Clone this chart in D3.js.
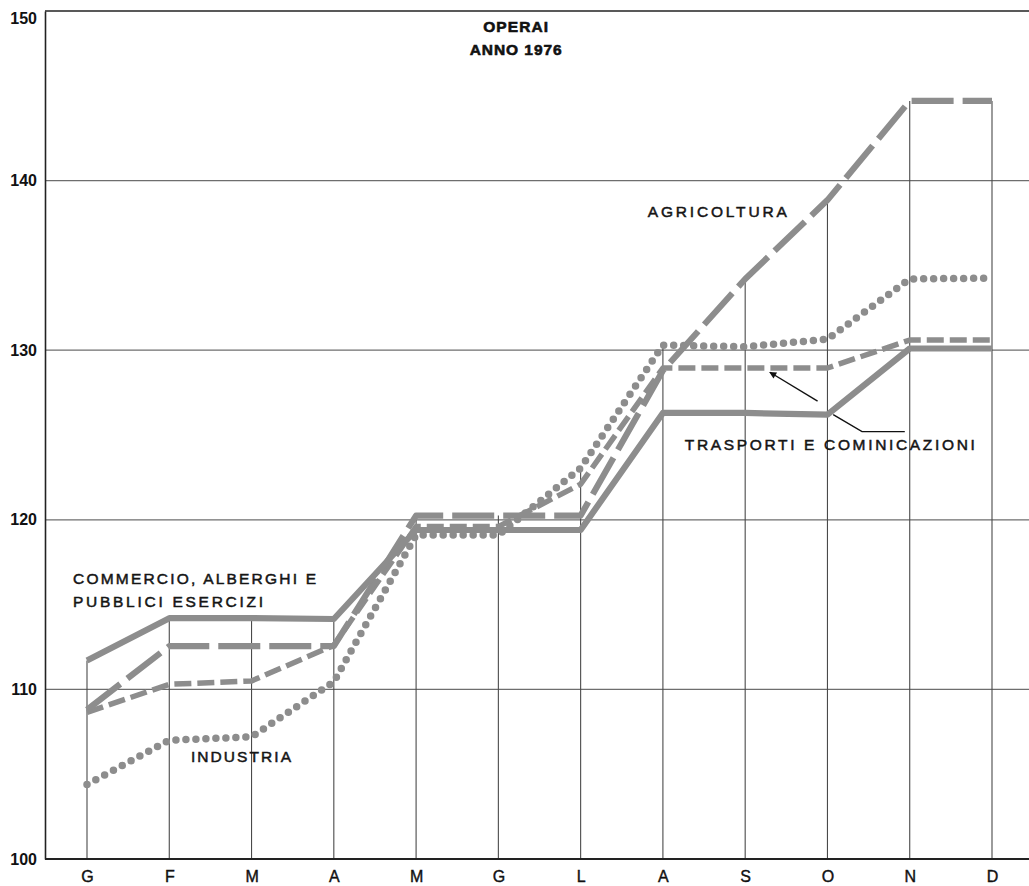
<!DOCTYPE html>
<html><head><meta charset="utf-8">
<script src="https://cdn.jsdelivr.net/npm/d3@7/dist/d3.min.js"></script>
<style>html,body{margin:0;padding:0;background:#fff;} svg{display:block}</style>
</head><body><svg id="c" width="1029" height="886"></svg>
<script>
// ---- data ----
const months = ["G","F","M","A","M","G","L","A","S","O","N","D"];
const yTicks = [100,110,120,130,140,150];
const gridValues = [110,120,130,140];
const commercio   = [111.7,114.2,114.2,114.15,119.4,119.4,119.4,126.3,126.3,126.2,130.1,130.1];
const agricoltura = [108.8,112.55,112.55,112.55,120.25,120.25,120.25,128.8,134.2,138.85,144.7,144.7];
const trasporti   = [108.65,110.3,110.5,112.6,119.6,119.6,122.1,128.95,128.95,128.95,130.6,130.6];
const industria   = [104.4,107.0,107.2,110.45,119.1,119.1,123.05,130.3,130.2,130.65,134.2,134.25];
const titleLines = ["OPERAI","ANNO 1976"];

// ---- layout ----
const W = 1029, H = 886;
const left = 45, right = 1029;
const svg = d3.select("#c");
const x = d3.scaleLinear().domain([0, 11]).range([87, 992]);
const y = d3.scaleLinear().domain([100, 150]).range([859, 11]);
const lineColor = "#8d8d8d";
const font = "'Liberation Sans', Arial, Helvetica, sans-serif";

svg.append("rect").attr("width", W).attr("height", H).attr("fill", "#fff");

// gridlines
svg.append("g").selectAll("line").data(gridValues).join("line")
  .attr("x1", left).attr("x2", right)
  .attr("y1", d => y(d)).attr("y2", d => y(d))
  .attr("stroke", "#6e6e6e").attr("stroke-width", 1.2);

// top border
svg.append("line").attr("x1", left).attr("x2", right)
  .attr("y1", y(150)).attr("y2", y(150))
  .attr("stroke", "#222").attr("stroke-width", 1.6);

// drop lines to max series value
const allSeries = [commercio, agricoltura, trasporti, industria];
const maxes = months.map((m, i) => d3.max(allSeries, s => s[i]));
svg.append("g").selectAll("line").data(maxes).join("line")
  .attr("x1", (d, i) => x(i)).attr("x2", (d, i) => x(i))
  .attr("y1", y(100)).attr("y2", d => y(d))
  .attr("stroke", "#4a4a4a").attr("stroke-width", 1.1);

// y axis
const yAxis = svg.append("g").attr("transform", `translate(${left},0)`)
  .call(d3.axisLeft(y).tickValues(yTicks).tickSize(0).tickPadding(8).tickFormat(d3.format("d")));
yAxis.select(".domain").attr("stroke", "#222").attr("stroke-width", 1.6);
yAxis.selectAll("text").attr("font-family", font).attr("font-weight", "bold")
  .attr("font-size", 16).attr("fill", "#111");
yAxis.selectAll(".tick").filter(d => d === 150).select("text").attr("dy", "0.75em");

// x axis
const xAxis = svg.append("g").attr("transform", `translate(0,${y(100)})`)
  .call(d3.axisBottom(x).tickValues(d3.range(12)).tickSize(0).tickPadding(12).tickFormat(i => months[i]));
xAxis.select(".domain").remove();
svg.append("line").attr("x1", left).attr("x2", right).attr("y1", y(100)).attr("y2", y(100))
  .attr("stroke", "#222").attr("stroke-width", 1.8);
xAxis.selectAll("text").attr("font-family", font).attr("font-size", 16)
  .attr("fill", "#111").attr("stroke", "#111").attr("stroke-width", 0.4);

// series
const line = d3.line().x((d, i) => x(i)).y(d => y(d));
const styles = [
  {data: industria,   width: 7.5, dash: "0 10", cap: "round"},
  {data: trasporti,   width: 5.5, dash: "17 6", cap: "butt"},
  {data: agricoltura, width: 6.2, dash: "42 9", cap: "butt"},
  {data: commercio,   width: 6.2, dash: null,   cap: "butt"}
];
styles.forEach(s => {
  svg.append("path").datum(s.data).attr("d", line)
    .attr("fill", "none").attr("stroke", lineColor)
    .attr("stroke-width", s.width).attr("stroke-linecap", s.cap)
    .attr("stroke-linejoin", "round")
    .attr("stroke-dasharray", s.dash);
});

// annotation pointers
svg.append("defs").append("marker").attr("id", "ah")
  .attr("viewBox", "0 0 10 10").attr("refX", 9).attr("refY", 5)
  .attr("markerWidth", 10).attr("markerHeight", 7).attr("orient", "auto")
  .attr("markerUnits", "userSpaceOnUse")
  .append("path").attr("d", "M0,0 L10,5 L0,10 Z").attr("fill", "#111");
const arrowPts = [[8.88, 127.0], [8.3, 128.7]];
svg.append("path").attr("d", d3.line().x(d => x(d[0])).y(d => y(d[1]))(arrowPts))
  .attr("stroke", "#111").attr("stroke-width", 1.4).attr("fill", "none")
  .attr("marker-end", "url(#ah)");
const pointerPts = [[9.07, 126.2], [9.42, 125.2], [9.94, 125.2]];
svg.append("path").attr("d", d3.line().x(d => x(d[0])).y(d => y(d[1]))(pointerPts))
  .attr("stroke", "#111").attr("stroke-width", 1.4).attr("fill", "none");

// labels (data coordinates: month index, value)
const labels = [
  {t: "COMMERCIO, ALBERGHI E", p: [-0.17, 116.21], len: 243},
  {t: "PUBBLICI ESERCIZI", p: [-0.17, 114.86], len: 190},
  {t: "INDUSTRIA", p: [1.264, 105.72], len: 100},
  {t: "AGRICOLTURA", p: [6.816, 137.85], len: 139},
  {t: "TRASPORTI E COMINICAZIONI", p: [7.266, 124.12], len: 290}
];
svg.append("g").selectAll("text").data(labels).join("text")
  .attr("x", d => x(d.p[0])).attr("y", d => y(d.p[1]))
  .attr("textLength", d => d.len).attr("lengthAdjust", "spacing")
  .attr("font-family", font).attr("font-size", 15.5)
  .attr("fill", "#151515").attr("stroke", "#151515").attr("stroke-width", 0.5)
  .text(d => d.t);

// title
const titlePos = [{p: [5.21, 148.75], len: 65}, {p: [5.21, 147.4], len: 92}];
svg.append("g").selectAll("text").data(titleLines).join("text")
  .attr("x", (d, i) => x(titlePos[i].p[0])).attr("y", (d, i) => y(titlePos[i].p[1]))
  .attr("text-anchor", "middle")
  .attr("textLength", (d, i) => titlePos[i].len).attr("lengthAdjust", "spacing")
  .attr("font-family", font).attr("font-weight", "bold").attr("font-size", 15.5)
  .attr("fill", "#111").attr("stroke", "#111").attr("stroke-width", 0.6)
  .text(d => d);
</script></body></html>
